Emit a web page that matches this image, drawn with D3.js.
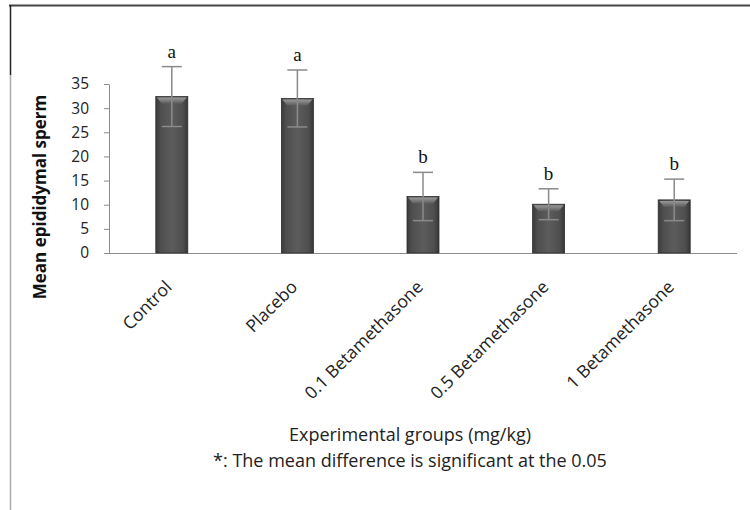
<!DOCTYPE html>
<html>
<head>
<meta charset="utf-8">
<script src="https://cdn.jsdelivr.net/npm/d3@7"></script>
<style>
  body { margin: 0; background: #fff; }
  text { font-family: "Open Sans", "Liberation Sans", sans-serif; }
</style>
</head>
<body>
<div id="chart"></div>
<script>

// data
var groups = ["Control", "Placebo", "0.1 Betamethasone", "0.5 Betamethasone", "1 Betamethasone"];
var means = [32.4, 32.0, 11.7, 10.1, 11.0];
var errors = [6.2, 5.9, 5.0, 3.2, 4.3];
var letters = ["a", "a", "b", "b", "b"];
var yTicks = [0, 5, 10, 15, 20, 25, 30, 35];

var W = 750, H = 510;
var margin = {top: 84, right: 13, bottom: 257, left: 109},
    width = W - margin.left - margin.right,
    height = H - margin.top - margin.bottom;

var svg = d3.select("#chart")
  .append("svg")
    .attr("width", W)
    .attr("height", H);

// outer frame (top + left edges only, like the cropped original)
svg.append("line")
  .attr("x1", 9).attr("x2", W).attr("y1", 5.5).attr("y2", 5.5)
  .style("stroke", "#444").style("stroke-width", 2);
svg.append("line")
  .attr("x1", 10.5).attr("x2", 10.5).attr("y1", 5).attr("y2", 75)
  .style("stroke", "#222").style("stroke-width", 1.5);
svg.append("line")
  .attr("x1", 10.5).attr("x2", 10.5).attr("y1", 75).attr("y2", H)
  .style("stroke", "#aaa").style("stroke-width", 1.5);

var defs = svg.append("defs");
var grad = defs.append("linearGradient").attr("id", "barGrad")
  .attr("x1", "0%").attr("x2", "100%").attr("y1", "0%").attr("y2", "0%");
grad.append("stop").attr("offset", "0%").attr("stop-color", "#3a3a3a");
grad.append("stop").attr("offset", "15%").attr("stop-color", "#4e4e4e");
grad.append("stop").attr("offset", "50%").attr("stop-color", "#5c5c5c");
grad.append("stop").attr("offset", "85%").attr("stop-color", "#4e4e4e");
grad.append("stop").attr("offset", "100%").attr("stop-color", "#363636");

var topGrad = defs.append("linearGradient").attr("id", "topGrad")
  .attr("x1", "0%").attr("x2", "0%").attr("y1", "0%").attr("y2", "100%");
topGrad.append("stop").attr("offset", "0%").attr("stop-color", "#9a9a9a");
topGrad.append("stop").attr("offset", "100%").attr("stop-color", "#5c5c5c");

var g = svg.append("g")
  .attr("transform", "translate(" + margin.left + "," + margin.top + ")");

var x = d3.scaleBand()
  .domain(groups)
  .range([0, width])
  .padding(0);

var y = d3.scaleLinear()
  .domain([0, 35])
  .range([height, 0]);

// y axis
var yAxis = g.append("g")
  .call(d3.axisLeft(y).tickValues(yTicks).tickSize(5).tickSizeOuter(0));
yAxis.select(".domain").style("stroke", "#8c8c8c");
yAxis.selectAll(".tick line").style("stroke", "#8c8c8c");
yAxis.selectAll(".tick text")
  .attr("x", -20)
  .style("font-size", "15.5px")
  .style("fill", "#222");

// x axis (baseline only)
var xAxis = g.append("g")
  .attr("transform", "translate(0," + height + ")")
  .call(d3.axisBottom(x).tickSize(0).tickSizeOuter(0));
xAxis.select(".domain").attr("d", "M-5,0.5H" + width).style("stroke", "#8c8c8c");
xAxis.selectAll(".tick text")
  .attr("text-anchor", "end")
  .attr("dx", "0")
  .attr("dy", "0")
  .attr("transform", "translate(-1,33) rotate(-45)")
  .style("font-size", "17.5px")
  .style("fill", "#222");

var bw = 32;

// bars
var bars = g.selectAll(".bar")
  .data(groups)
  .enter().append("g");

bars.append("rect")
  .attr("x", function(d) { return x(d) + x.bandwidth() / 2 - bw / 2; })
  .attr("y", function(d, i) { return y(means[i]); })
  .attr("width", bw)
  .attr("height", function(d, i) { return height - y(means[i]); })
  .style("fill", "url(#barGrad)")
  .style("stroke", "#2e2e2e")
  .style("stroke-width", 0.8);

// bevel highlight at the top of each bar
bars.append("path")
  .attr("d", function(d, i) {
    var l = x(d) + x.bandwidth() / 2 - bw / 2 + 1, r = l + bw - 2, t = y(means[i]) + 1;
    return "M" + l + "," + t + "H" + r + "L" + (r - 5) + "," + (t + 6) + "H" + (l + 5) + "Z";
  })
  .style("fill", "url(#topGrad)");

// error bars
var cap = 10;
bars.append("line")
  .attr("x1", function(d) { return x(d) + x.bandwidth() / 2; })
  .attr("x2", function(d) { return x(d) + x.bandwidth() / 2; })
  .attr("y1", function(d, i) { return y(means[i] + errors[i]); })
  .attr("y2", function(d, i) { return y(means[i] - errors[i]); })
  .style("stroke", "#8a8a8a").style("stroke-width", 1.5);
bars.append("line")
  .attr("x1", function(d) { return x(d) + x.bandwidth() / 2 - cap; })
  .attr("x2", function(d) { return x(d) + x.bandwidth() / 2 + cap; })
  .attr("y1", function(d, i) { return y(means[i] + errors[i]); })
  .attr("y2", function(d, i) { return y(means[i] + errors[i]); })
  .style("stroke", "#8a8a8a").style("stroke-width", 1.5);
bars.append("line")
  .attr("x1", function(d) { return x(d) + x.bandwidth() / 2 - cap; })
  .attr("x2", function(d) { return x(d) + x.bandwidth() / 2 + cap; })
  .attr("y1", function(d, i) { return y(means[i] - errors[i]); })
  .attr("y2", function(d, i) { return y(means[i] - errors[i]); })
  .style("stroke", "#8a8a8a").style("stroke-width", 1.5);

// significance letters
bars.append("text")
  .attr("x", function(d) { return x(d) + x.bandwidth() / 2; })
  .attr("y", function(d, i) { return y(means[i] + errors[i]) - 9; })
  .attr("text-anchor", "middle")
  .style("font-family", "'Liberation Serif', 'DejaVu Serif', serif")
  .style("font-size", "19px")
  .style("fill", "#111")
  .text(function(d, i) { return letters[i]; });

// y axis title
svg.append("text")
  .attr("transform", "translate(46,197) rotate(-90)")
  .attr("text-anchor", "middle")
  .style("font-size", "17px")
  .style("font-weight", "bold")
  .style("fill", "#111")
  .text("Mean epididymal sperm");

// x axis title and note
svg.append("text")
  .attr("x", 410).attr("y", 441)
  .attr("text-anchor", "middle")
  .style("font-size", "18px")
  .style("fill", "#222")
  .text("Experimental groups (mg/kg)");
svg.append("text")
  .attr("x", 410).attr("y", 467)
  .attr("text-anchor", "middle")
  .style("font-size", "18px")
  .style("fill", "#222")
  .text("*: The mean difference is significant  at the 0.05");

</script>
</body>
</html>
